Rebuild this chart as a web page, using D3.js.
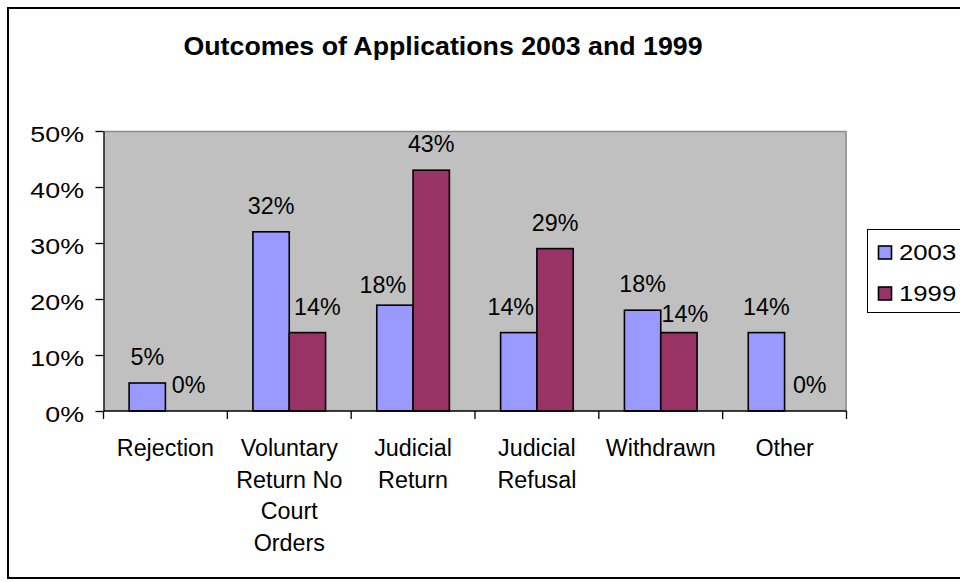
<!DOCTYPE html>
<html>
<head>
<meta charset="utf-8">
<script src="https://cdn.jsdelivr.net/npm/d3@7"></script>
<style>
  html, body { margin: 0; padding: 0; background: #fff; overflow: hidden; }
  svg { display: block; font-family: "Liberation Sans", Arial, sans-serif; }
</style>
</head>
<body>
<svg id="chart" width="960" height="582"></svg>
<script>
// ---- data ----
const categories = ["Rejection", "Voluntary Return No Court Orders", "Judicial Return", "Judicial Refusal", "Withdrawn", "Other"];
const seriesNames = ["2003", "1999"];
const values2003 = [0.05, 0.32, 0.189, 0.14, 0.18, 0.14];
const values1999 = [0.00, 0.14, 0.43, 0.29, 0.14, 0.00];
const labels2003 = ["5%", "32%", "18%", "14%", "18%", "14%"];
const labels1999 = ["0%", "14%", "43%", "29%", "14%", "0%"];
const yTicks = [0, 0.1, 0.2, 0.3, 0.4, 0.5];
const titleText = "Outcomes of Applications 2003 and 1999";

// ---- layout / style ----
const colors = { "2003": "#9999FF", "1999": "#993366" };
const plot = { left: 103.5, right: 846.5, top: 131, bottom: 411 };
// manual label nudges (as moved in the original chart)
const nudge2003 = [[0,0],[0,0],[-12,6],[-8,0],[0,0],[0,0]];
const nudge1999 = [[5,0],[10,0],[0,0],[0,0],[6,7],[7,0]];

const svg = d3.select("#chart");

// outer chart border
svg.append("rect").attr("x", 8).attr("y", 8).attr("width", 1000).attr("height", 570)
  .attr("fill", "#fff").attr("stroke", "#000").attr("stroke-width", 2);

const x = d3.scaleBand().domain(categories).range([plot.left, plot.right]).paddingInner(0).paddingOuter(0);
const xs = d3.scaleBand().domain(seriesNames).range([0, x.bandwidth()]).paddingInner(0).paddingOuter(0.705);
const y = d3.scaleLinear().domain([0, 0.5]).range([plot.bottom, plot.top]);

// plot area
svg.append("rect").attr("x", plot.left).attr("y", plot.top)
  .attr("width", plot.right - plot.left).attr("height", plot.bottom - plot.top)
  .attr("fill", "#C0C0C0");
svg.append("path")
  .attr("d", `M${plot.left},${plot.top + 0.5}H${plot.right - 0.5}V${plot.bottom}`)
  .attr("fill", "none").attr("stroke", "#8c8c8c").attr("stroke-width", 1.5);

// title
svg.append("text")
  .attr("transform", `translate(443,55) scale(1.07,1)`)
  .attr("text-anchor", "middle").attr("font-weight", "bold").attr("font-size", 25)
  .attr("fill", "#000").text(titleText);

// y axis
const yAxis = d3.axisLeft(y).tickValues(yTicks).tickFormat(d3.format(".0%")).tickSize(8).tickSizeOuter(0);
const gy = svg.append("g").attr("transform", `translate(${plot.left},0)`).call(yAxis);
gy.select(".domain").attr("stroke", "#000").attr("stroke-width", 1.3);
gy.selectAll(".tick line").attr("stroke", "#000").attr("stroke-width", 1.3);
gy.selectAll(".tick text")
  .attr("x", 0).attr("dy", null).attr("y", 10)
  .attr("transform", "translate(-19.5,0) scale(1.22,1)")
  .attr("font-size", 22).attr("font-family", "Liberation Sans, Arial, sans-serif").attr("fill", "#000");

// bars
const seriesData = [
  { key: "2003", values: values2003, labels: labels2003, nudge: nudge2003 },
  { key: "1999", values: values1999, labels: labels1999, nudge: nudge1999 }
];
seriesData.forEach(s => {
  const g = svg.append("g");
  g.selectAll("rect").data(categories).join("rect")
    .attr("x", (c) => x(c) + xs(s.key))
    .attr("y", (c, i) => y(s.values[i]))
    .attr("width", xs.bandwidth())
    .attr("height", (c, i) => y(0) - y(s.values[i]))
    .attr("fill", colors[s.key])
    .attr("stroke", (c, i) => s.values[i] > 0 ? "#000" : "none")
    .attr("stroke-width", 1.6);
});

// x axis line and boundary ticks
const boundaries = categories.map(c => x(c)).concat([x.range()[1]]);
svg.append("line").attr("x1", plot.left).attr("x2", plot.right).attr("y1", plot.bottom).attr("y2", plot.bottom)
  .attr("stroke", "#000").attr("stroke-width", 1.3);
svg.append("g").selectAll("line").data(boundaries).join("line")
  .attr("x1", d => d).attr("x2", d => d).attr("y1", plot.bottom).attr("y2", plot.bottom + 8)
  .attr("stroke", "#000").attr("stroke-width", 1.3);

// data labels
seriesData.forEach(s => {
  svg.append("g").selectAll("text").data(categories).join("text")
    .attr("x", (c, i) => x(c) + xs(s.key) + xs.bandwidth() / 2 + s.nudge[i][0])
    .attr("y", (c, i) => y(s.values[i]) - 18 + s.nudge[i][1])
    .attr("text-anchor", "middle").attr("font-size", 23.3).attr("fill", "#000")
    .text((c, i) => s.labels[i]);
});

// category labels with word wrap
const catG = svg.append("g");
categories.forEach(c => {
  const t = catG.append("text").attr("text-anchor", "middle").attr("font-size", 23.3).attr("fill", "#000");
  const cx = x(c) + x.bandwidth() / 2;
  const words = c.split(" ");
  const maxW = x.bandwidth();
  let lines = [];
  let line = [];
  const probe = svg.append("text").attr("font-size", 23.3);
  words.forEach(w => {
    const test = line.concat([w]).join(" ");
    probe.text(test);
    if (probe.node().getComputedTextLength() > maxW && line.length) {
      lines.push(line.join(" "));
      line = [w];
    } else {
      line.push(w);
    }
  });
  lines.push(line.join(" "));
  probe.remove();
  lines.forEach((l, k) => {
    t.append("tspan").attr("x", cx).attr("y", 456 + k * 31.7).text(l);
  });
});

// legend
const lg = svg.append("g");
lg.append("rect").attr("x", 867.5).attr("y", 229.5).attr("width", 120).attr("height", 83)
  .attr("fill", "#fff").attr("stroke", "#000").attr("stroke-width", 1);
seriesNames.forEach((k, i) => {
  const yy = 246 + i * 41;
  lg.append("rect").attr("x", 878.5).attr("y", yy).attr("width", 13).attr("height", 13)
    .attr("fill", colors[k]).attr("stroke", "#000").attr("stroke-width", 1.6);
  lg.append("text").attr("transform", `translate(899,${yy + 13.5}) scale(1.17,1)`)
    .attr("font-size", 22).attr("fill", "#000").text(k);
});
</script>
</body>
</html>
